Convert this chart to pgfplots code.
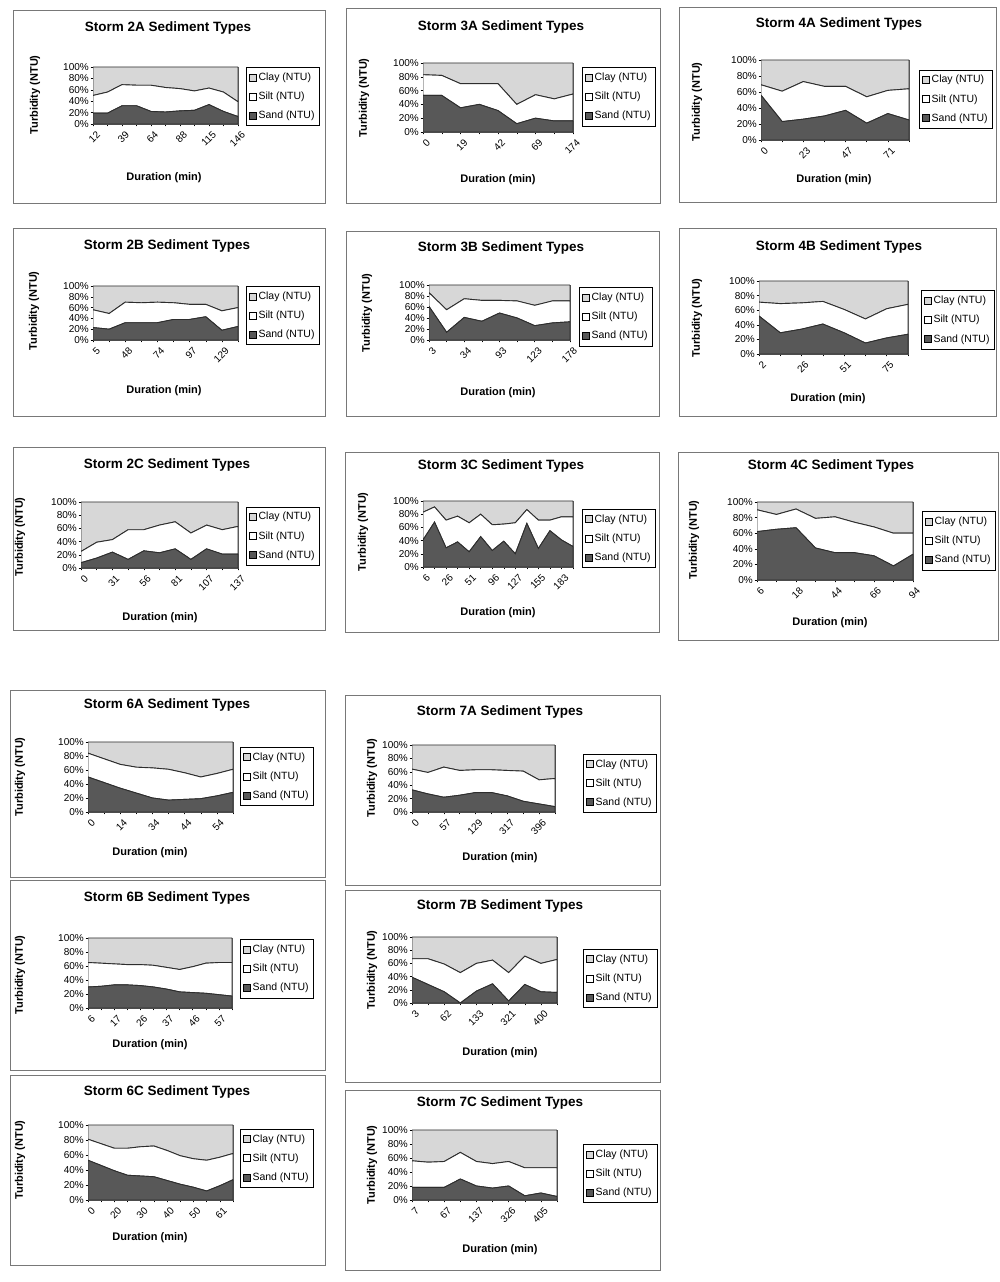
\documentclass[border=0pt]{standalone}
\usepackage{fontspec}
\setmainfont{Liberation Sans}
\usepackage{pgfplots}
\usepackage{pgfplotstable}
\pgfplotsset{compat=1.18}
\definecolor{sandc}{RGB}{88,88,88}
\definecolor{clayc}{RGB}{215,215,215}
\definecolor{linec}{RGB}{45,45,45}
\definecolor{framec}{RGB}{120,120,120}
\newcommand{\titlefont}{\bfseries\fontsize{13.5}{15}\selectfont}
\newcommand{\labfont}{\bfseries\fontsize{11}{12}\selectfont}
\newcommand{\ticfont}{\fontsize{10}{10}\selectfont}
\newcommand{\legfont}{\fontsize{10.5}{12}\selectfont}

\pgfplotsset{sed/.style={
  scale only axis, anchor=south west,
  stack plots=y, enlargelimits=false,
  ymin=0, ymax=100, ytick={0,20,40,60,80,100},
  yticklabels={0\%,20\%,40\%,60\%,80\%,100\%},
  tick align=outside, major tick length=2.5pt, minor tick length=2.5pt,
  xtick pos=left, ytick pos=left,
  tick style={black, line width=0.5pt},
  minor tick style={black, line width=0.5pt},
  axis line style={black!70, line width=0.6pt},
  ticklabel style={font=\ticfont},
  xticklabel style={rotate=45, anchor=north east, inner sep=0.5pt, yshift=-4pt},
  yticklabel style={inner ysep=0.3pt, inner xsep=1.5pt},
  every axis plot/.append style={line width=0.9pt},
  reverse legend,
  legend style={anchor=north west, draw=black, fill=white, font=\legfont,
    inner xsep=3pt, inner ysep=3.5pt, row sep=6pt, cells={anchor=west}},
  legend image code/.code={\draw[#1,draw=black,line width=0.4pt] (0pt,-3.5pt) rectangle (7pt,3.5pt);},
}}

\newcommand{\sed}[1]{%
  \addplot[fill=sandc,draw=linec] table[x=x,y=sand]{#1} \closedcycle;
  \addplot[fill=white,draw=linec] table[x=x,y=silt]{#1} \closedcycle;
  \addplot[fill=clayc,draw=linec] table[x=x,y=clay]{#1} \closedcycle;
  \legend{Sand (NTU),Silt (NTU),Clay (NTU)}
}
\newcommand{\plabels}[7]{%
  \node[font=\titlefont] at (#1,#2) {#3};
  \node[font=\labfont, rotate=90] at (#4,#5) {Turbidity (NTU)};
  \node[font=\labfont] at (#6,#7) {Duration (min)};
}

\pgfplotstableread{
x sand silt clay
0 19 31 50
1 19 37 44
2 32 37 31
3 32 36 32
4 22 46 32
5 21 43 36
6 23 39 38
7 24 34 42
8 34 29 37
9 22 34 44
10 13 26 61
}\tTwoA
\pgfplotstableread{
x sand silt clay
0 53 30 17
1 53 29 18
2 35 35 30
3 40 30 30
4 31 39 30
5 12 28 60
6 20 34 46
7 16 32 52
8 16 39 45
}\tThreeA
\pgfplotstableread{
x sand silt clay
0 56 13 31
1 23 38 39
2 26 47 27
3 30 37 33
4 37 30 33
5 21 33 46
6 33 29 38
7 25 39 36
}\tFourA
\pgfplotstableread{
x sand silt clay
0 23 33 44
1 20 29 51
2 32 38 30
3 32 37 31
4 32 38 30
5 38 31 31
6 38 28 34
7 43 23 34
8 18 36 46
9 25 35 40
}\tTwoB
\pgfplotstableread{
x sand silt clay
0 61 25 14
1 14 41 45
2 41 34 25
3 34 38 28
4 49 23 28
5 40 31 29
6 26 37 37
7 31 40 29
8 33 38 29
}\tThreeB
\pgfplotstableread{
x sand silt clay
0 52 19 29
1 29 40 31
2 34 36 30
3 41 31 28
4 29 32 39
5 15 33 52
6 22 40 38
7 27 41 32
}\tFourB
\pgfplotstableread{
x sand silt clay
0 8 17 75
1 15 24 61
2 24 19 57
3 13 45 42
4 26 32 42
5 23 42 35
6 29 41 30
7 13 40 47
8 29 36 35
9 21 37 42
10 21 42 37
}\tTwoC
\pgfplotstableread{
x sand silt clay
0 41 42 17
1 68 23 9
2 29 42 29
3 38 39 23
4 23 44 33
5 46 34 20
6 25 39 36
7 39 26 35
8 20 47 33
9 66 21 13
10 28 43 29
11 55 16 29
12 41 35 24
13 31 45 24
}\tThreeC
\pgfplotstableread{
x sand silt clay
0 62 28 10
1 65 19 16
2 67 24 9
3 41 38 21
4 35 46 19
5 35 39 26
6 31 37 32
7 18 42 40
8 33 27 40
}\tFourC
\pgfplotstableread{
x sand silt clay
0 50 34 16
1 42 34 24
2 34 34 32
3 27 37 36
4 20 43 37
5 17 44 39
6 18 38 44
7 19 31 50
8 23 32 45
9 28 33 39
}\tSixA
\pgfplotstableread{
x sand silt clay
0 33 31 36
1 27 32 41
2 22 45 33
3 25 37 38
4 29 34 37
5 29 34 37
6 24 38 38
7 16 45 39
8 12 36 52
9 8 42 50
}\tSevenA
\pgfplotstableread{
x sand silt clay
0 30 35 35
1 31 33 36
2 33 30 37
3 33 29 38
4 32 30 38
5 30 31 39
6 27 31 42
7 23 32 45
8 22 37 41
9 21 43 36
10 19 46 35
11 17 48 35
}\tSixB
\pgfplotstableread{
x sand silt clay
0 39 28 33
1 28 39 33
2 17 42 41
3 0 46 54
4 18 42 40
5 29 36 35
6 3 43 54
7 28 43 29
8 17 43 40
9 16 50 34
}\tSevenB
\pgfplotstableread{
x sand silt clay
0 53 28 19
1 46 29 25
2 39 30 31
3 33 36 31
4 32 39 29
5 31 41 28
6 26 40 34
7 21 38 41
8 17 38 45
9 12 41 47
10 19 38 43
11 27 35 38
}\tSixC
\pgfplotstableread{
x sand silt clay
0 18 38 44
1 18 36 46
2 18 37 45
3 30 38 32
4 20 35 45
5 17 35 48
6 20 35 45
7 6 40 54
8 10 36 54
9 5 41 54
}\tSevenC

\begin{document}
\begin{tikzpicture}[x=1pt,y=1pt]
\useasboundingbox (0,0) rectangle (999,1282);
\fill[white] (0,0) rectangle (999,1282);
% frames
\begin{scope}[draw=framec, line width=0.8pt]
\draw (13,1079) rectangle (325,1272);
\draw (346,1079) rectangle (660,1274);
\draw (679,1080) rectangle (996,1275);
\draw (13,866) rectangle (325,1054);
\draw (346,866) rectangle (659,1051);
\draw (679,866) rectangle (996,1054);
\draw (13,652) rectangle (325,835);
\draw (345,650) rectangle (659,830);
\draw (678,642) rectangle (998,830);
\draw (10,405) rectangle (325,592);
\draw (345,397) rectangle (660,587);
\draw (10,212) rectangle (325,402);
\draw (345,200) rectangle (660,392);
\draw (10,17) rectangle (325,207);
\draw (345,12) rectangle (660,192);
\end{scope}
% labels
\plabels{168}{1254}{Storm 2A Sediment Types}{35}{1187}{164}{1104}
\plabels{501}{1255}{Storm 3A Sediment Types}{364}{1184}{498}{1102}
\plabels{839}{1258}{Storm 4A Sediment Types}{697}{1180}{834}{1102}
\plabels{167}{1036}{Storm 2B Sediment Types}{34}{971}{164}{891}
\plabels{501}{1034}{Storm 3B Sediment Types}{367}{969}{498}{889}
\plabels{839}{1035}{Storm 4B Sediment Types}{697}{964}{828}{883}
\plabels{167}{817}{Storm 2C Sediment Types}{20}{745}{160}{664}
\plabels{501}{816}{Storm 3C Sediment Types}{363}{750}{498}{669}
\plabels{831}{816}{Storm 4C Sediment Types}{694}{742}{830}{659}
\plabels{167}{577}{Storm 6A Sediment Types}{20}{505}{150}{429}
\plabels{500}{570}{Storm 7A Sediment Types}{372}{504}{500}{424}
\plabels{167}{384}{Storm 6B Sediment Types}{20}{307}{150}{237}
\plabels{500}{376}{Storm 7B Sediment Types}{372}{312}{500}{229}
\plabels{167}{190}{Storm 6C Sediment Types}{20}{122}{150}{44}
\plabels{500}{179}{Storm 7C Sediment Types}{372}{117}{500}{32}

\begin{axis}[sed, at={(93pt,1158pt)}, width=145pt, height=57pt,
  xtick={0,2,...,10}, minor xtick={0,...,10},
  xticklabels={12,39,64,88,115,146}, legend style={at={(1.055,1.0)}}]
\sed{\tTwoA}
\end{axis}
\begin{axis}[sed, at={(423pt,1150pt)}, width=150pt, height=69pt,
  xtick={0,2,...,8}, minor xtick={0,...,8},
  xticklabels={0,19,42,69,174}, legend style={at={(1.06,0.935)}}]
\sed{\tThreeA}
\end{axis}
\begin{axis}[sed, at={(761pt,1142pt)}, width=148pt, height=80pt,
  xtick={0,2,...,6}, minor xtick={0,...,7},
  xticklabels={0,23,47,71}, legend style={at={(1.068,0.88)}}]
\sed{\tFourA}
\end{axis}
\begin{axis}[sed, at={(93pt,942pt)}, width=145pt, height=54pt,
  xtick={0,2,...,8}, minor xtick={0,...,9},
  xticklabels={5,48,74,97,129}, legend style={at={(1.055,1.0)}}]
\sed{\tTwoB}
\end{axis}
\begin{axis}[sed, at={(429pt,942pt)}, width=141pt, height=55pt,
  xtick={0,2,...,8}, minor xtick={0,...,8},
  xticklabels={3,34,93,123,178}, legend style={at={(1.064,0.96)}}]
\sed{\tThreeB}
\end{axis}
\begin{axis}[sed, at={(759pt,928pt)}, width=149pt, height=73pt,
  xtick={0,2,...,6}, minor xtick={0,...,7},
  xticklabels={2,26,51,75}, legend style={at={(1.087,0.87)}}]
\sed{\tFourB}
\end{axis}
\begin{axis}[sed, at={(81pt,714pt)}, width=157pt, height=66pt,
  xtick={0,2,...,10}, minor xtick={0,...,10},
  xticklabels={0,31,56,81,107,137}, legend style={at={(1.051,0.93)}}]
\sed{\tTwoC}
\end{axis}
\begin{axis}[sed, at={(423pt,715pt)}, width=150pt, height=66pt,
  xtick={0,2,...,12}, minor xtick={0,...,13},
  xticklabels={6,26,51,96,127,155,183}, legend style={at={(1.06,0.88)}}]
\sed{\tThreeC}
\end{axis}
\begin{axis}[sed, at={(757pt,702pt)}, width=156pt, height=78pt,
  xtick={0,2,...,8}, minor xtick={0,...,8},
  xticklabels={6,18,44,66,94}, legend style={at={(1.058,0.88)}}]
\sed{\tFourC}
\end{axis}
\begin{axis}[sed, at={(88pt,470pt)}, width=145pt, height=70pt,
  xtick={0,2,...,8}, minor xtick={0,...,9},
  xticklabels={0,14,34,44,54}, legend style={at={(1.048,0.93)}}]
\sed{\tSixA}
\end{axis}
\begin{axis}[sed, at={(412pt,470pt)}, width=143pt, height=67pt,
  xtick={0,2,...,8}, minor xtick={0,...,9},
  xticklabels={0,57,129,317,396}, legend style={at={(1.196,0.87)}}]
\sed{\tSevenA}
\end{axis}
\begin{axis}[sed, at={(88pt,274pt)}, width=144pt, height=70pt,
  xtick={0,2,...,10}, minor xtick={0,...,11},
  xticklabels={6,17,26,37,46,57}, legend style={at={(1.056,0.98)}}]
\sed{\tSixB}
\end{axis}
\begin{axis}[sed, at={(412pt,279pt)}, width=145pt, height=66pt,
  xtick={0,2,...,8}, minor xtick={0,...,9},
  xticklabels={3,62,133,321,400}, legend style={at={(1.18,0.82)}}]
\sed{\tSevenB}
\end{axis}
\begin{axis}[sed, at={(88pt,82pt)}, width=145pt, height=75pt,
  xtick={0,2,...,10}, minor xtick={0,...,11},
  xticklabels={0,20,30,40,50,61}, legend style={at={(1.048,0.95)}}]
\sed{\tSixC}
\end{axis}
\begin{axis}[sed, at={(412pt,82pt)}, width=145pt, height=70pt,
  xtick={0,2,...,8}, minor xtick={0,...,9},
  xticklabels={7,67,137,326,405}, legend style={at={(1.18,0.80)}}]
\sed{\tSevenC}
\end{axis}
\end{tikzpicture}
\end{document}
